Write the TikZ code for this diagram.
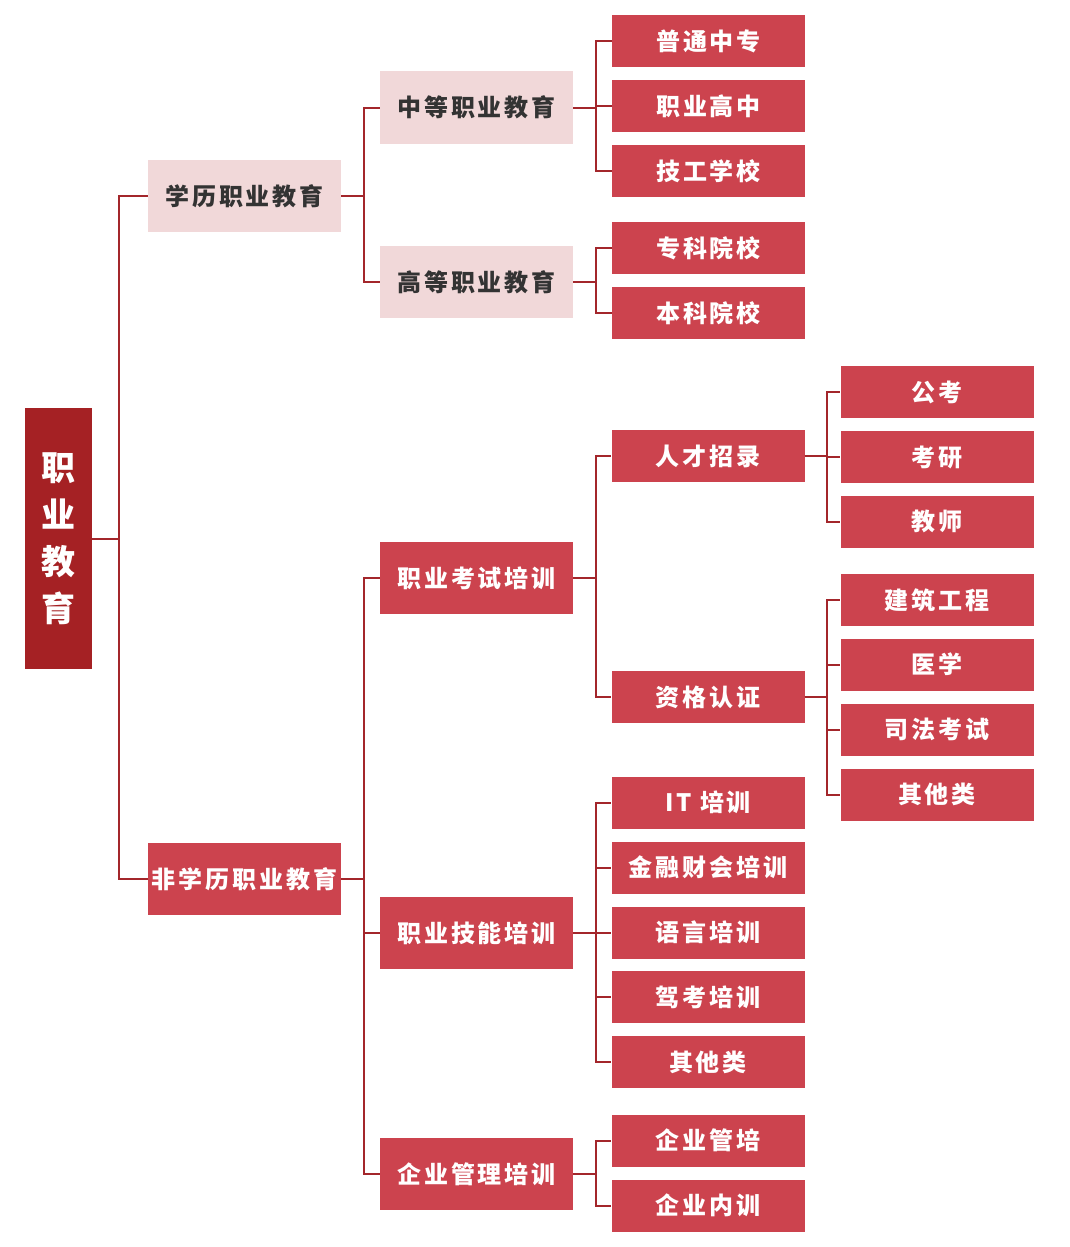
\documentclass[tikz,border=0pt]{standalone}
\usepackage{fontspec}
\setmainfont{Noto Sans CJK SC}[LetterSpace=12]
\usetikzlibrary{positioning}
\definecolor{rootred}{HTML}{A52124}
\definecolor{boxred}{HTML}{CC434E}
\definecolor{boxpink}{HTML}{F1D8D9}
\definecolor{linered}{HTML}{A3262B}
\definecolor{darktext}{HTML}{333333}
\tikzset{
  base/.style={inner sep=0pt, minimum width=193pt, font=\fontsize{24}{26}\selectfont\bfseries},
  rbox/.style={base, fill=boxred, text=white},
  pbox/.style={base, fill=boxpink, text=darktext},
  tall/.style={minimum height=72pt},
  short/.style={minimum height=52pt},
  rootbox/.style={inner sep=0pt, fill=rootred, text=white, minimum width=67pt, minimum height=261pt, align=center, font=\fontsize{34}{47}\selectfont\bfseries},
  conn/.style={draw=linered, line width=2pt},
}
\begin{document}
\begin{tikzpicture}[x=1pt,y=-1pt]
\useasboundingbox[fill=white] (0,0) rectangle (1069,1247);
% root
\node[rootbox] (root) at (58.5,538.5) {职\\业\\教\\育};
% level 1
\node[pbox,tall] (xl) at (244.5,196) {学历职业教育};
\node[rbox,tall] (fxl) at (244.5,879) {非学历职业教育};
% level 2
\node[pbox,tall] (zd) at (476.5,107.5) {中等职业教育};
\node[pbox,tall] (gd) at (476.5,282) {高等职业教育};
\node[rbox,tall] (ks) at (476.5,578) {职业考试培训};
\node[rbox,tall] (jn) at (476.5,933) {职业技能培训};
\node[rbox,tall] (qy) at (476.5,1174) {企业管理培训};
% level 3
\node[rbox,short] (a1) at (708.5,41) {普通中专};
\node[rbox,short] (a2) at (708.5,106) {职业高中};
\node[rbox,short] (a3) at (708.5,171) {技工学校};
\node[rbox,short] (b1) at (708.5,248) {专科院校};
\node[rbox,short] (b2) at (708.5,313) {本科院校};
\node[rbox,short] (c1) at (708,456) {人才招录};
\node[rbox,short] (c2) at (708,697) {资格认证};
\node[rbox,short] (d1) at (708,802.5) {IT 培训};
\node[rbox,short] (d2) at (708,867.5) {金融财会培训};
\node[rbox,short] (d3) at (708,932.5) {语言培训};
\node[rbox,short] (d4) at (708,997) {驾考培训};
\node[rbox,short] (d5) at (708,1062) {其他类};
\node[rbox,short] (e1) at (708,1140.5) {企业管培};
\node[rbox,short] (e2) at (708,1205.5) {企业内训};
% level 4
\node[rbox,short] (f1) at (937,392) {公考};
\node[rbox,short] (f2) at (937,457) {考研};
\node[rbox,short] (f3) at (937,521.5) {教师};
\node[rbox,short] (g1) at (937,600) {建筑工程};
\node[rbox,short] (g2) at (937,664.5) {医学};
\node[rbox,short] (g3) at (937,729.5) {司法考试};
\node[rbox,short] (g4) at (937,794.5) {其他类};
% connectors
\foreach \c in {xl,fxl} \draw[conn] (root.east) -- ([xshift=27pt]root.east) |- (\c.west);
\foreach \c in {zd,gd} \draw[conn] (xl.east) -- ([xshift=23pt]xl.east) |- (\c.west);
\foreach \c in {ks,jn,qy} \draw[conn] (fxl.east) -- ([xshift=23pt]fxl.east) |- (\c.west);
\foreach \c in {a1,a2,a3} \draw[conn] (zd.east) -- ([xshift=23pt]zd.east) |- (\c.west);
\foreach \c in {b1,b2} \draw[conn] (gd.east) -- ([xshift=23pt]gd.east) |- (\c.west);
\foreach \c in {c1,c2} \draw[conn] (ks.east) -- ([xshift=23pt]ks.east) |- (\c.west);
\foreach \c in {d1,d2,d3,d4,d5} \draw[conn] (jn.east) -- ([xshift=23pt]jn.east) |- (\c.west);
\foreach \c in {e1,e2} \draw[conn] (qy.east) -- ([xshift=23pt]qy.east) |- (\c.west);
\foreach \c in {f1,f2,f3} \draw[conn] (c1.east) -- ([xshift=22pt]c1.east) |- (\c.west);
\foreach \c in {g1,g2,g3,g4} \draw[conn] (c2.east) -- ([xshift=22pt]c2.east) |- (\c.west);
\end{tikzpicture}
\end{document}
